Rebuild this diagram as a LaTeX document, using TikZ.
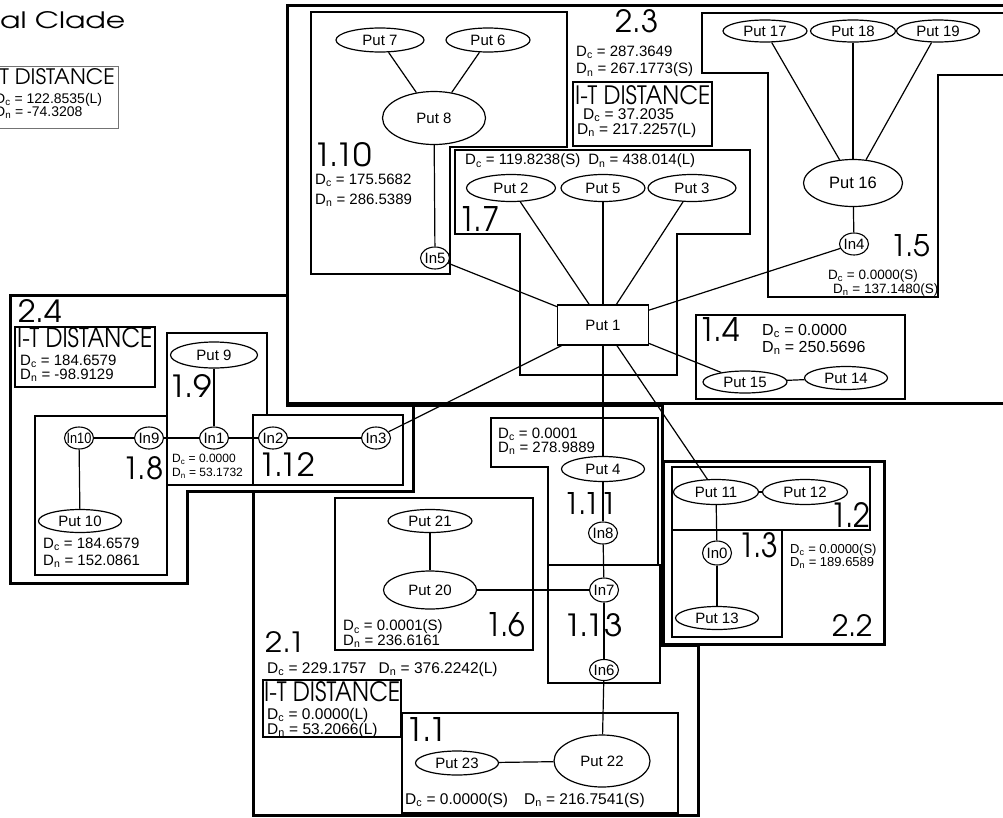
\documentclass[tikz,border=0pt]{standalone}
\usepackage{fontspec}
\setmainfont{Liberation Sans}
\newfontfamily\geo[Extension=.otf]{texgyreadventor-regular}
\usepackage{graphicx}
\usetikzlibrary{shapes.geometric}
\newcommand\Dc{D\textsubscript{c}}
\newcommand\Dn{D\textsubscript{n}}
\newcommand\zw[1]{\makebox[0pt]{#1}}
\tikzset{
  put/.style={draw, ellipse, fill=white, line width=1.2pt, inner sep=0pt, font=\fontsize{15}{17}\selectfont},
  inn/.style={draw, ellipse, fill=white, line width=1.1pt, inner sep=0pt, minimum width=29pt, minimum height=22pt, font=\fontsize{15}{17}\selectfont},
  link/.style={line width=1.2pt},
  thinbox/.style={line width=1.1pt},
  clade/.style={line width=3pt},
  dtxt/.style={anchor=west, inner sep=0pt, font=\fontsize{#1}{#1}\selectfont},
  dtxt/.default=15,
  num/.style={anchor=south west, inner sep=0pt},
}
\begin{document}
\begin{tikzpicture}[x=1pt,y=-1pt]
\useasboundingbox (0,0) rectangle (1003,817);
\clip (0,0) rectangle (1003,817);

% ---------- top-left partial ----------
\node[num] (title) at (0,29) {\resizebox{125pt}{17pt}{\geo al Clade}};
\draw[line width=0.8pt, black!55] (-10,66) rectangle (118,128);
\node[anchor=south east, inner sep=0pt] (itA) at (115,85) {\resizebox{115pt}{16pt}{\geo T DISTANCE}};
\node[dtxt=14] (dcA) at (-5,100) {\Dc{} = 122.8535(L)};
\node[dtxt=14] (dnA) at (-5,113) {\Dn{} = -74.3208};

% ---------- thin boxes ----------
\draw[thinbox] (311,12) -- (567,12) -- (567,147) -- (450,147) -- (450,274) -- (311,274) -- cycle; % 1.10
\draw[thinbox] (455,150) -- (750,150) -- (750,234) -- (677,234) -- (677,375) -- (520,375) -- (520,234) -- (455,234) -- cycle; % 1.7
\draw[thinbox] (1012,13) -- (702,13) -- (702,73) -- (768,73) -- (768,297) -- (938,297) -- (938,75) -- (1012,75); % 1.5
\draw[thinbox] (696,315) rectangle (905,399); % 1.4
\draw[thinbox] (573,82) rectangle (712,146); % IT 2.3
\draw[thinbox] (15,327) rectangle (155,387); % IT 2.4
\draw[thinbox] (167,333) -- (267,333) -- (267,415) -- (253,415) -- (253,485) -- (167,485) -- cycle; % 1.9
\draw[thinbox] (35,416) rectangle (167,575); % 1.8
\draw[thinbox] (253,415) rectangle (403,485); % 1.12
\draw[thinbox] (491,418) -- (658,418) -- (658,565) -- (548,565) -- (548,467) -- (491,467) -- cycle; % 1.11
\draw[thinbox] (548,565) rectangle (660,683); % 1.13
\draw[thinbox] (335,498) rectangle (533,650); % 1.6
\draw[thinbox] (263,680) rectangle (401,737); % IT 2.1
\draw[thinbox] (402,713) rectangle (678,813); % 1.1
\draw[thinbox] (672,467) rectangle (870,530); % 1.2
\draw[thinbox] (672,530) rectangle (782,637); % 1.3

% ---------- thick clade boxes ----------
\draw[clade] (1012,5) -- (287,5) -- (287,403) -- (1012,403); % 2.3
\draw[clade] (10,295) -- (287,295) -- (287,405) -- (413,405) -- (413,491) -- (187,491) -- (187,583) -- (10,583) -- cycle; % 2.4
\draw[clade] (253,815) -- (253,491) -- (413,491) -- (413,405) -- (662,405) -- (662,645) -- (698,645) -- (698,815) -- cycle; % 2.1
\draw[clade] (663,461) rectangle (884,644); % 2.2

% ---------- labels ----------
\node[num] (n23) at (615,33) {\resizebox{43pt}{23pt}{\geo 2.3}};
\node[dtxt] (dc23) at (576,52) {\Dc{} = 287.3649};
\node[dtxt] (dn23) at (576,70) {\Dn{} = 267.1773(S)};
\node[num] (it23) at (575,105) {\resizebox{135pt}{19pt}{\geo I-T DISTANCE}};
\node[dtxt=15.5] (dcit23) at (583,115.5) {\Dc{} = 37.2035};
\node[dtxt=15.5] (dnit23) at (577,130) {\Dn{} = 217.2257(L)};

\node[num] (n110) at (313,167) {\resizebox{59pt}{24pt}{\geo 1.10}};
\node[dtxt] (dc110) at (315,180) {\Dc{} = 175.5682};
\node[dtxt] (dn110) at (315,200) {\Dn{} = 286.5389};

\node[dtxt] (d17) at (465,161) {\Dc{} = 119.8238(S)\hspace{8pt}\Dn{} = 438.014(L)};
\node[num] (n17) at (458,232) {\resizebox{42pt}{25pt}{\geo 1.7}};

\node[num] (n15) at (890,257) {\resizebox{40pt}{22pt}{\geo 1.5}};
\node[dtxt=13.5] (dc15) at (828,276) {\Dc{} = 0.0000(S)};
\node[dtxt=13.5] (dn15) at (833,290) {\Dn{} = 137.1480(S)};

\node[num] (n14) at (698,342) {\resizebox{42pt}{24pt}{\geo 1.4}};
\node[dtxt=16] (dc14) at (762,331) {\Dc{} = 0.0000};
\node[dtxt=16] (dn14) at (762,348) {\Dn{} = 250.5696};

\node[num] (n24) at (18,323) {\resizebox{44pt}{23pt}{\geo 2.4}};
\node[num] (it24) at (17,348) {\resizebox{135pt}{20pt}{\geo I-T DISTANCE}};
\node[dtxt] (dcit24) at (20,361) {\Dc{} = 184.6579};
\node[dtxt] (dnit24) at (20,375) {\Dn{} = -98.9129};
\node[num] (n19) at (168,398) {\resizebox{44pt}{23pt}{\geo 1.9}};
\node[num] (n18) at (122,480) {\resizebox{41pt}{23pt}{\geo 1.8}};
\node[dtxt=12] (dc19) at (172,459.5) {\Dc{} = 0.0000};
\node[dtxt=12] (dn19) at (172,473.5) {\Dn{} = 53.1732};
\node[num] (n112) at (258,477) {\resizebox{57pt}{24pt}{\geo 1.12}};
\node[dtxt] (dc18) at (43,544) {\Dc{} = 184.6579};
\node[dtxt] (dn18) at (43,561) {\Dn{} = 152.0861};

\node[dtxt] (dc111) at (498,434) {\Dc{} = 0.0001};
\node[dtxt] (dn111) at (498,448) {\Dn{} = 278.9889};
\node[num] (n111) at (563,515) {\resizebox{54pt}{22pt}{\geo 1.11}};
\node[num] (n113) at (563,637) {\resizebox{60pt}{23pt}{\geo 1.13}};

\node[num] (n16) at (485,637) {\resizebox{40pt}{24pt}{\geo 1.6}};
\node[dtxt] (dc16) at (343,627) {\Dc{} = 0.0001(S)};
\node[dtxt] (dn16) at (343,641) {\Dn{} = 236.6161};

\node[num] (n21) at (265,653) {\resizebox{40pt}{21pt}{\geo 2.1}};
\node[dtxt=15.5] (d21) at (267,669) {\Dc{} = 229.1757\hspace{12pt}\Dn{} = 376.2242(L)};
\node[num] (it21) at (264,702) {\resizebox{136pt}{20pt}{\geo I-T DISTANCE}};
\node[dtxt=15.5] (dcit21) at (267,715) {\Dc{} = 0.0000(L)};
\node[dtxt=15.5] (dnit21) at (267,730) {\Dn{} = 53.2066(L)};

\node[num] (n11) at (405,742) {\resizebox{42pt}{24pt}{\geo 1.1}};
\node[dtxt=15.5] (d11) at (405,800) {\Dc{} = 0.0000(S)\hspace{16pt}\Dn{} = 216.7541(S)};

\node[num] (n12) at (830,528) {\resizebox{40pt}{25pt}{\geo 1.2}};
\node[num] (n13) at (738,558) {\resizebox{40pt}{25pt}{\geo 1.3}};
\node[dtxt=13] (dc13) at (790,550) {\Dc{} = 0.0000(S)};
\node[dtxt=13] (dn13) at (790,563) {\Dn{} = 189.6589};
\node[num] (n22) at (832,637) {\resizebox{41pt}{22pt}{\geo 2.2}};

% ---------- nodes ----------
\node[put, minimum width=88pt, minimum height=24pt] (Put7) at (380,40) {\zw{Put 7}};
\node[put, minimum width=84pt, minimum height=24pt] (Put6) at (488,40) {\zw{Put 6}};
\node[put, minimum width=103pt, minimum height=53pt] (Put8) at (434,118) {\zw{Put 8}};
\node[inn] (In5) at (435,258) {\zw{In5}};
\node[put, minimum width=89pt, minimum height=27pt] (Put2) at (511,188) {\zw{Put 2}};
\node[put, minimum width=84pt, minimum height=27pt] (Put5) at (603,188) {\zw{Put 5}};
\node[put, minimum width=88pt, minimum height=27pt] (Put3) at (692,188) {\zw{Put 3}};
\node[draw, rectangle, fill=white, line width=1.2pt, minimum width=91pt, minimum height=40pt, inner sep=0pt, font=\fontsize{15}{17}\selectfont] (Put1) at (603,325) {Put 1};
\node[put, minimum width=84pt, minimum height=22pt] (Put17) at (765,31) {\zw{Put 17}};
\node[put, minimum width=85pt, minimum height=22pt] (Put18) at (853,31) {\zw{Put 18}};
\node[put, minimum width=83pt, minimum height=22pt] (Put19) at (938,31) {\zw{Put 19}};
\node[put, minimum width=99pt, minimum height=47pt, font=\fontsize{16.5}{18}\selectfont] (Put16) at (853,183) {\zw{Put 16}};
\node[inn] (In4) at (854,244) {\zw{In4}};
\node[put, minimum width=84pt, minimum height=22pt] (Put15) at (745,382) {\zw{Put 15}};
\node[put, minimum width=83pt, minimum height=23pt] (Put14) at (846,378) {\zw{Put 14}};
\node[put, minimum width=87pt, minimum height=26pt] (Put9) at (214,355) {\zw{Put 9}};
\node[inn] (In1) at (214,438) {\zw{In1}};
\node[inn] (In9) at (149,438) {\zw{In9}};
\node[inn] (In10) at (79,438) {\zw{\scalebox{0.85}[1]{In10}}};
\node[inn] (In2) at (273,438) {\zw{In2}};
\node[inn] (In3) at (376,438) {\zw{In3}};
\node[put, minimum width=83pt, minimum height=23pt] (Put10) at (80,521) {\zw{Put 10}};
\node[put, minimum width=83pt, minimum height=25pt] (Put4) at (603,469) {\zw{Put 4}};
\node[inn] (In8) at (603,533) {\zw{In8}};
\node[inn, minimum height=24pt] (In7) at (604,590) {\zw{In7}};
\node[inn, minimum height=21pt] (In6) at (604,670) {\zw{In6}};
\node[put, minimum width=84pt, minimum height=23pt] (Put21) at (430,521) {\zw{Put 21}};
\node[put, minimum width=93pt, minimum height=38pt] (Put20) at (430,590) {\zw{Put 20}};
\node[put, minimum width=96pt, minimum height=52pt] (Put22) at (602,761) {\zw{Put 22}};
\node[put, minimum width=83pt, minimum height=24pt] (Put23) at (457,763) {\zw{Put 23}};
\node[put, minimum width=85pt, minimum height=25pt] (Put11) at (716,492) {\zw{Put 11}};
\node[put, minimum width=85pt, minimum height=25pt] (Put12) at (805,492) {\zw{Put 12}};
\node[inn, minimum height=24pt] (In0) at (717,553) {\zw{In0}};
\node[put, minimum width=83pt, minimum height=23pt] (Put13) at (717,618) {\zw{Put 13}};

% ---------- connectors ----------
\draw[link] (Put7) -- (Put8);
\draw[link] (Put6) -- (Put8);
\draw[link] (Put8) -- (In5);
\draw[link] (In5) -- (Put1);
\draw[link] (Put2) -- (Put1);
\draw[link] (Put5) -- (Put1);
\draw[link] (Put3) -- (Put1);
\draw[link] (Put17) -- (Put16);
\draw[link] (Put18) -- (Put16);
\draw[link] (Put19) -- (Put16);
\draw[link] (Put16) -- (In4);
\draw[link] (In4) -- (Put1);
\draw[link] (Put1) -- (Put15);
\draw[link] (Put15) -- (Put14);
\draw[link] (Put1) -- (In3);
\draw[link] (In3) -- (In2);
\draw[link] (In2) -- (In1);
\draw[link] (In1) -- (In9);
\draw[link] (In9) -- (In10);
\draw[link] (In10) -- (Put10);
\draw[link] (Put9) -- (In1);
\draw[link] (Put1) -- (Put4);
\draw[link] (Put4) -- (In8);
\draw[link] (In8) -- (In7);
\draw[link] (In7) -- (In6);
\draw[link] (In6) -- (Put22);
\draw[link] (Put20) -- (In7);
\draw[link] (Put21) -- (Put20);
\draw[link] (Put23) -- (Put22);
\draw[link] (Put1) -- (Put11);
\draw[link] (Put11) -- (Put12);
\draw[link] (Put11) -- (In0);
\draw[link] (In0) -- (Put13);
\end{tikzpicture}
\end{document}
